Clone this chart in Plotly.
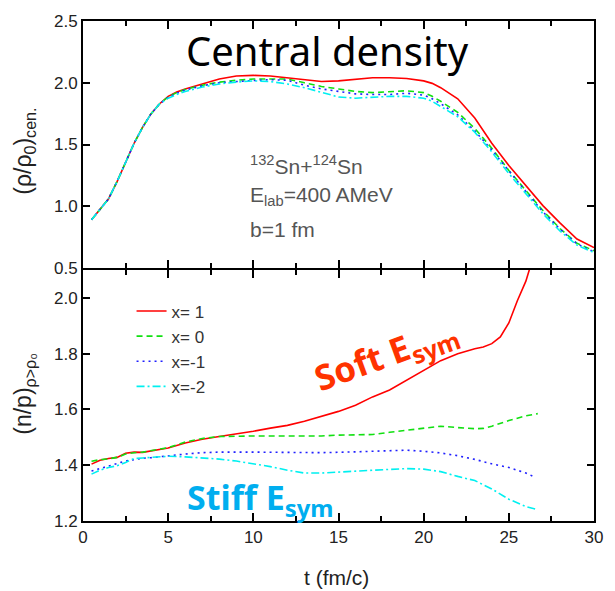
import plotly.graph_objects as go

# ---------------- data ----------------
# Top panel: central density (rho/rho0)
t_top = [0.5, 1.5, 2.0, 2.5, 3.0, 3.5, 4.0, 4.5, 5.0, 5.5, 6.0, 7.0, 8.0, 9.0, 10.0, 11.0, 12.0,
         13.0, 14.0, 15.0, 16.0, 17.0, 18.0, 19.0, 20.0, 20.5, 21.0, 22.0, 23.0, 24.0, 25.0,
         26.0, 27.0, 28.0, 29.0, 30.0]
rho_x1 = [0.89, 1.06, 1.20, 1.36, 1.51, 1.64, 1.75, 1.83, 1.89, 1.925, 1.95, 1.99, 2.03, 2.055, 2.06,
          2.055, 2.04, 2.02, 2.01, 2.015, 2.03, 2.04, 2.04, 2.035, 2.015, 1.995, 1.96, 1.87, 1.715,
          1.51, 1.33, 1.17, 1.005, 0.865, 0.735, 0.665]
rho_x0 = [0.89, 1.06, 1.20, 1.36, 1.51, 1.64, 1.75, 1.83, 1.885, 1.92, 1.945, 1.98, 2.005, 2.02, 2.03,
          2.03, 2.03, 2.0, 1.97, 1.95, 1.93, 1.92, 1.925, 1.935, 1.92, 1.89, 1.85, 1.76, 1.63,
          1.47, 1.29, 1.13, 0.965, 0.82, 0.70, 0.64]
rho_xm1 = [0.89, 1.06, 1.20, 1.36, 1.51, 1.64, 1.75, 1.83, 1.88, 1.915, 1.94, 1.975, 2.0, 2.01, 2.02,
           2.025, 2.02, 1.98, 1.95, 1.93, 1.91, 1.905, 1.905, 1.915, 1.90, 1.87, 1.83, 1.74, 1.61,
           1.455, 1.285, 1.12, 0.955, 0.815, 0.695, 0.632]
rho_xm2 = [0.89, 1.06, 1.20, 1.36, 1.51, 1.64, 1.75, 1.83, 1.875, 1.905, 1.93, 1.965, 1.99, 2.005, 2.015,
           2.01, 1.99, 1.96, 1.92, 1.885, 1.875, 1.885, 1.89, 1.89, 1.875, 1.85, 1.81, 1.725, 1.60,
           1.44, 1.265, 1.10, 0.94, 0.80, 0.685, 0.625]

# Bottom panel: (n/p) ratio for rho > rho0
t_x1 = [0.5, 1.0, 1.5, 2.0, 2.5, 3.0, 3.5, 4.0, 4.5, 5.0, 6.0, 7.0, 8.0, 9.0, 10.0, 11.0, 12.0, 13.0,
        14.0, 15.0, 16.0, 17.0, 18.0, 19.0, 20.0, 21.0, 22.0, 23.0, 23.5, 24.0, 24.5, 25.0, 25.5,
        26.0, 26.5]
np_x1 = [1.404, 1.418, 1.424, 1.428, 1.443, 1.447, 1.446, 1.452, 1.458, 1.462, 1.48, 1.493, 1.503,
         1.512, 1.522, 1.533, 1.543, 1.558, 1.575, 1.593, 1.615, 1.645, 1.67, 1.705, 1.74, 1.775,
         1.80, 1.818, 1.824, 1.836, 1.86, 1.91, 1.99, 2.06, 2.16]
t_x0 = [0.5, 1.0, 1.5, 2.0, 2.5, 3.0, 3.5, 4.0, 4.5, 5.0, 6.0, 7.0, 8.0, 9.0, 10.0, 11.0, 12.0, 13.0,
        14.0, 15.0, 16.0, 17.0, 18.0, 19.0, 20.0, 21.0, 22.0, 23.0, 23.5, 24.0, 25.0, 26.0, 26.7]
np_x0 = [1.414, 1.42, 1.423, 1.428, 1.44, 1.445, 1.447, 1.453, 1.457, 1.463, 1.483, 1.496, 1.503,
         1.505, 1.505, 1.505, 1.505, 1.503, 1.505, 1.508, 1.508, 1.51, 1.518, 1.525, 1.532, 1.54,
         1.535, 1.531, 1.532, 1.54, 1.56, 1.577, 1.585]
t_xm1 = [0.5, 1.0, 1.5, 2.0, 2.5, 3.0, 3.5, 4.0, 5.0, 6.0, 7.0, 8.0, 10.0, 12.0, 14.0, 16.0, 18.0,
         19.0, 20.0, 21.0, 22.0, 23.0, 24.0, 25.0, 26.0, 26.4]
np_xm1 = [1.379, 1.388, 1.397, 1.405, 1.415, 1.42, 1.425, 1.427, 1.434, 1.44, 1.445, 1.447, 1.447,
          1.445, 1.445, 1.448, 1.452, 1.454, 1.45, 1.444, 1.434, 1.421, 1.405, 1.392, 1.372, 1.361]
t_xm2 = [0.5, 1.0, 1.5, 2.0, 2.5, 3.0, 3.5, 4.0, 5.0, 6.0, 7.0, 8.0, 9.0, 10.0, 11.0, 12.0, 13.0,
         14.0, 15.0, 16.0, 17.0, 18.0, 19.0, 20.0, 21.0, 22.0, 23.0, 24.0, 25.0, 26.0, 26.6]
np_xm2 = [1.368, 1.382, 1.392, 1.398, 1.41, 1.424, 1.426, 1.428, 1.432, 1.43, 1.426, 1.422, 1.415,
          1.405, 1.395, 1.382, 1.372, 1.372, 1.376, 1.38, 1.382, 1.385, 1.388, 1.386, 1.377, 1.36,
          1.345, 1.315, 1.278, 1.252, 1.242]

series_names = ["x= 1", "x= 0", "x=-1", "x=-2"]
colors = ["#ff0000", "#11e011", "#2020ff", "#00f0f0"]
dashes = ["solid", "6px,4px", "2px,4px", "8px,3px,2px,3px"]

top_vals = [rho_x1, rho_x0, rho_xm1, rho_xm2]
bot_t = [t_x1, t_x0, t_xm1, t_xm2]
bot_vals = [np_x1, np_x0, np_xm1, np_xm2]

fig = go.Figure()
for i in range(4):
    fig.add_trace(go.Scatter(x=t_top, y=top_vals[i], mode="lines", xaxis="x2", yaxis="y2",
                             line=dict(color=colors[i], width=1.6, dash=dashes[i]),
                             showlegend=False, hoverinfo="skip"))
for i in range(4):
    fig.add_trace(go.Scatter(x=bot_t[i], y=bot_vals[i], mode="lines", xaxis="x", yaxis="y",
                             name=series_names[i],
                             line=dict(color=colors[i], width=1.6, dash=dashes[i])))

tickfont = dict(family="Liberation Sans, Arial", size=17, color="#222")
ax_common = dict(showline=True, linewidth=2, linecolor="black", mirror="allticks",
                 ticks="inside", tickcolor="black", tickwidth=1.5, showgrid=False,
                 zeroline=False, tickfont=tickfont)

split = 252 / 502
top_start = split + 2 / 502
fig.update_layout(
    width=615, height=591,
    margin=dict(l=83, r=14, t=19, b=70),
    paper_bgcolor="white", plot_bgcolor="white",
    xaxis=dict(domain=[0, 1], anchor="y", range=[0, 30], dtick=5, tick0=0, ticklen=8,
               minor=dict(ticks="inside", dtick=2.5, tick0=0, ticklen=5, tickcolor="black", tickwidth=1.5),
               **ax_common),
    xaxis2=dict(domain=[0, 1], anchor="y2", range=[0, 30], dtick=5, tick0=0, ticklen=8,
                showticklabels=False, matches="x",
                minor=dict(ticks="inside", dtick=2.5, tick0=0, ticklen=5, tickcolor="black", tickwidth=1.5),
                **ax_common),
    yaxis=dict(domain=[0, split], anchor="x", range=[1.2, 2.1], dtick=0.2, tick0=1.2,
               tickformat=".1f", ticklen=7, **ax_common),
    yaxis2=dict(domain=[top_start, 1], anchor="x2", range=[0.5, 2.5], dtick=0.5, tick0=0.5,
                tickformat=".1f", ticklen=7, **ax_common),
    legend=dict(x=0.095, y=0.455, xanchor="left", yanchor="top", bgcolor="rgba(0,0,0,0)",
                font=dict(family="Liberation Sans, Arial", size=17, color="#333"),
                tracegroupgap=0),
    showlegend=True,
)

def A(text, x, y, font, xanchor="center", yanchor="middle", **kw):
    return dict(text=text, x=x, y=y, xref="paper", yref="paper", xanchor=xanchor,
                yanchor=yanchor, showarrow=False, font=font, **kw)

ann = []
ann.append(A("Central density", 0.479, 0.942, dict(family="Noto Sans", size=40, color="black")))
gray = dict(family="Liberation Sans, Arial", size=21, color="#555")
ann.append(A("<sup>132</sup>Sn+<sup>124</sup>Sn", 0.322, 0.713, gray, xanchor="left"))
ann.append(A("E<sub>lab</sub>=400 AMeV", 0.322, 0.650, gray, xanchor="left"))
ann.append(A("b=1 fm", 0.322, 0.584, gray, xanchor="left"))
ann.append(A("<b>Soft E<sub>sym</sub></b>", 0.593, 0.33, dict(family="Noto Sans", size=35, color="#ff3300"),
             textangle=-20))
ann.append(A("<b>Stiff E<sub>sym</sub></b>", 0.199, 0.045, dict(family="Noto Sans", size=34, color="#00aeef"),
             xanchor="left"))
titlefont = dict(family="Liberation Sans, Arial", size=23, color="#222")
ann.append(A("(ρ/ρ<sub>0</sub>)<sub>cen.</sub>", -0.115, 0.739, titlefont, textangle=-90))
ann.append(A("(n/p)<sub>ρ&gt;ρ₀</sub>", -0.115, 0.255, titlefont, textangle=-90))
ann.append(A("t (fm/c)", 0.496, -0.112, dict(family="Liberation Sans, Arial", size=21, color="#222")))
fig.update_layout(annotations=ann)

fig.write_html("out.html")
